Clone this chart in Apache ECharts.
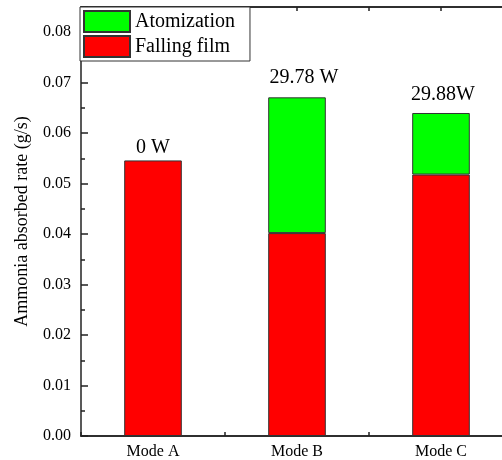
<!DOCTYPE html>
<html>
<head>
<meta charset="utf-8">
<script src="https://cdn.jsdelivr.net/npm/echarts@6/dist/echarts.min.js"></script>
<style>
  html, body { margin: 0; padding: 0; background: #fff; overflow: hidden; }
  /* plot box runs past the right edge of the window, like the original */
  #main { width: 513px; height: 460px; }
</style>
</head>
<body>
<div id="main"></div>
<script>
// chart data
var categories = ['Mode A', 'Mode B', 'Mode C'];
var fallingFilm = [0.0546, 0.0402, 0.0518];
var atomization = [0, 0.0269, 0.0122];
var powerLabels = ['0 W', '29.78 W', '29.88W'];
var yTicks = [0, 0.01, 0.02, 0.03, 0.04, 0.05, 0.06, 0.07, 0.08];

var serif = "'Liberation Serif', 'Times New Roman', serif";
var axisColor = '#222';
var labelDist = [3, 10, 8];
var labelShift = [[0, 0], [7, 0], [2, 0]];

var chart = echarts.init(document.getElementById('main'), null, { renderer: 'canvas' });

function frameAxis(pos, center, len, showLabels) {
  return {
    type: 'category',
    position: pos,
    data: categories,
    boundaryGap: true,
    axisLine: { show: true, lineStyle: { color: axisColor, width: 1.5 } },
    axisTick: { show: true, inside: true, alignWithLabel: center, length: len,
      lineStyle: { color: axisColor, width: 1.5 } },
    axisLabel: { show: showLabels, color: '#000', fontSize: 16, fontFamily: serif, margin: 8 },
    splitLine: { show: false }
  };
}

var option = {
  animation: false,
  backgroundColor: '#fff',
  grid: { left: 81, right: 0, top: 7, bottom: 23, containLabel: false },
  legend: {
    data: ['Atomization', 'Falling film'],
    orient: 'vertical',
    left: 80,
    top: 7,
    icon: 'rect',
    itemWidth: 46,
    itemHeight: 21,
    itemGap: 2,
    padding: [3, 15, 3, 3],
    backgroundColor: '#fff',
    borderColor: '#333',
    borderWidth: 1,
    borderRadius: 0,
    textStyle: { color: '#000', fontSize: 20, fontFamily: serif }
  },
  xAxis: [
    frameAxis('bottom', true, 7, true),
    frameAxis('bottom', false, 4, false),
    frameAxis('top', true, 4, false),
    frameAxis('top', false, 4, false)
  ],
  yAxis: {
    type: 'value',
    min: 0,
    max: 0.085,
    interval: 0.01,
    name: 'Ammonia absorbed rate (g/s)',
    nameLocation: 'middle',
    nameGap: 50,
    nameTextStyle: { color: '#000', fontSize: 18, fontFamily: serif },
    axisLine: { show: true, lineStyle: { color: axisColor, width: 1.5 } },
    axisTick: { show: true, inside: true, length: 7, lineStyle: { color: axisColor, width: 1.5 } },
    minorTick: { show: true, splitNumber: 2, length: 4, lineStyle: { color: axisColor, width: 1.5 } },
    axisLabel: {
      color: '#000', fontSize: 16, fontFamily: serif, margin: 10,
      formatter: function (v) {
        for (var i = 0; i < yTicks.length; i++) {
          if (Math.abs(v - yTicks[i]) < 1e-9) return v.toFixed(2);
        }
        return '';
      }
    },
    splitLine: { show: false }
  },
  series: [
    {
      name: 'Falling film',
      type: 'bar',
      stack: 'rate',
      barWidth: '40%',
      itemStyle: { color: '#ff0000', borderColor: '#333', borderWidth: 1 },
      data: fallingFilm
    },
    {
      name: 'Atomization',
      type: 'bar',
      stack: 'rate',
      barWidth: '40%',
      itemStyle: { color: '#00ff00', borderColor: '#333', borderWidth: 1 },
      data: atomization.map(function (v, i) {
        return {
          value: v,
          itemStyle: v === 0 ? { borderWidth: 0 } : {},
          label: {
            show: true,
            position: 'top',
            distance: labelDist[i],
            offset: labelShift[i],
            formatter: powerLabels[i],
            color: '#000',
            fontSize: 20,
            fontFamily: serif
          }
        };
      })
    }
  ]
};

chart.setOption(option);
</script>
</body>
</html>
